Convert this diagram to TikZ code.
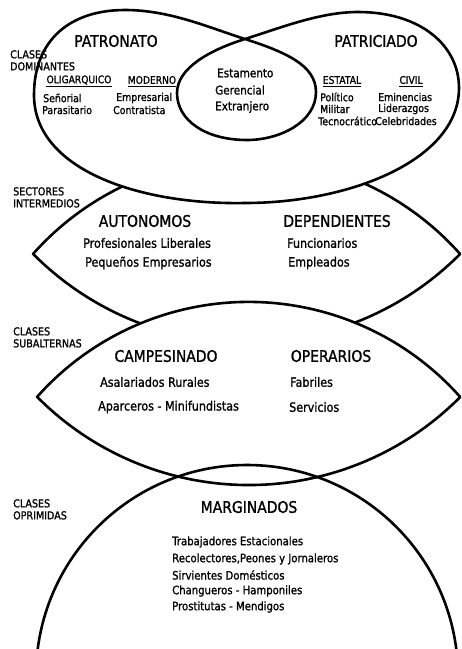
\documentclass[tikz,border=0pt]{standalone}
\usepackage{fontspec}
\setmainfont{DejaVu Sans}[FakeStretch=0.87, FakeBold=1.2]
\begin{document}
\begin{tikzpicture}[x=1pt,y=-1pt,
  shapeline/.style={line width=2.6pt, line join=round},
  title/.style={font=\fontsize{16}{18}\selectfont, inner sep=0pt},
  sub/.style={font=\fontsize{10.5}{12}\selectfont, inner sep=0pt},
  item/.style={font=\fontsize{10.8}{12}\selectfont, inner sep=0pt, anchor=west},
  inneritem/.style={font=\fontsize{12}{14}\selectfont, inner sep=0pt, anchor=west},
  miditem/.style={font=\fontsize{12.8}{14}\selectfont, inner sep=0pt, anchor=west},
  lowitem/.style={font=\fontsize{11.6}{13}\selectfont, inner sep=0pt, anchor=west},
  side/.style={font=\fontsize{11}{12}\selectfont, inner sep=0pt, anchor=north west, align=left},
  uline/.style={line width=1.3pt}]
\clip (0,0) rectangle (462,649);
\fill[white] (0,0) rectangle (462,649);
% middle lens (sectores intermedios)
\draw[shapeline, fill=white] (33,254) arc[start angle=221.6, end angle=318.4, radius=285.6]
  arc[start angle=44.83, end angle=135.17, radius=301] -- cycle;
% lower lens (clases subalternas)
\draw[shapeline, fill=white] (37,397) arc[start angle=221.6, end angle=318.4, radius=283]
  arc[start angle=44.8, end angle=135.2, radius=298.05] -- cycle;
% top figure (clases dominantes)
\draw[shapeline, fill=white] (245,39) .. controls (285,52) and (316,65) .. (316,92)
  .. controls (316,122) and (280,140) .. (247,140)
  .. controls (205,140) and (177,120) .. (177,93)
  .. controls (177,68) and (210,50) .. (245,39)
  .. controls (280,28) and (320,12) .. (358,12)
  .. controls (420,12) and (459,45) .. (459,88)
  .. controls (459,160) and (350,203) .. (245,203)
  .. controls (140,205) and (34,170) .. (34,95)
  .. controls (34,40) and (70,10) .. (125,10)
  .. controls (170,10) and (210,28) .. (245,39) -- cycle;
% bottom circle (clases oprimidas)
\draw[shapeline] (247,676) ++(180:211) arc[start angle=180, end angle=360, radius=211];

% side labels
\node[side] (cdom) at (10,50) {CLASES\\DOMINANTES};
\node[side] (secint) at (13,187) {SECTORES\\INTERMEDIOS};
\node[side] (csub) at (13,327) {CLASES\\SUBALTERNAS};
\node[side] (copr) at (13,499) {CLASES\\OPRIMIDAS};

% top
\node[title] (patronato) at (116,41) {PATRONATO};
\node[title] (patriciado) at (376,41) {PATRICIADO};
\node[sub] (olig) at (79,80) {OLIGARQUICO};
\node[sub] (moderno) at (152,80) {MODERNO};
\node[sub] (estatal) at (342,80) {ESTATAL};
\node[sub] (civil) at (411,80) {CIVIL};
\draw[uline] ([yshift=-2pt]olig.south west) -- ([yshift=-2pt]olig.south east);
\draw[uline] ([yshift=-2pt]moderno.south west) -- ([yshift=-2pt]moderno.south east);
\draw[uline] ([yshift=-2pt]estatal.south west) -- ([yshift=-2pt]estatal.south east);
\draw[uline] ([yshift=-2pt]civil.south west) -- ([yshift=-2pt]civil.south east);
\node[item] (senorial) at (43,98) {Señorial};
\node[item] (parasit) at (42,110) {Parasitario};
\node[item] (empres) at (116,98) {Empresarial};
\node[item] (contrat) at (113,110) {Contratista};
\node[item] (politico) at (320,97) {Político};
\node[item] (militar) at (320,109) {Militar};
\node[item] (tecno) at (318,121) {Tecnocrático};
\node[item] (eminen) at (378,97) {Eminencias};
\node[item] (lider) at (378,109) {Liderazgos};
\node[item] (celeb) at (375,121) {Celebridades};
\node[inneritem] (estam) at (217,73) {Estamento};
\node[inneritem] (geren) at (215,90) {Gerencial};
\node[inneritem] (extran) at (215,107) {Extranjero};

% sectores intermedios
\node[title] (autonomos) at (145,221) {AUTONOMOS};
\node[title] (dependientes) at (337,221) {DEPENDIENTES};
\node[miditem] (profes) at (83,243) {Profesionales Liberales};
\node[miditem] (pequen) at (85,263) {Pequeños Empresarios};
\node[miditem] (funcion) at (287,243) {Funcionarios};
\node[miditem] (emplea) at (288,263) {Empleados};

% clases subalternas
\node[title] (campesinado) at (166,356) {CAMPESINADO};
\node[title] (operarios) at (331,356) {OPERARIOS};
\node[miditem] (asalar) at (100,382) {Asalariados Rurales};
\node[miditem] (aparc) at (98,407) {Aparceros - Minifundistas};
\node[miditem] (fabril) at (290,382) {Fabriles};
\node[miditem] (servic) at (289,407) {Servicios};

% clases oprimidas
\node[title] (marginados) at (249,507) {MARGINADOS};
\node[lowitem] (trabaj) at (172,542) {Trabajadores Estacionales};
\node[lowitem] (recol) at (172,559) {Recolectores,Peones y Jornaleros};
\node[lowitem] (sirv) at (172,575) {Sirvientes Domésticos};
\node[lowitem] (chang) at (172,591) {Changueros - Hamponiles};
\node[lowitem] (prost) at (172,607) {Prostitutas - Mendigos};
\end{tikzpicture}
\end{document}
